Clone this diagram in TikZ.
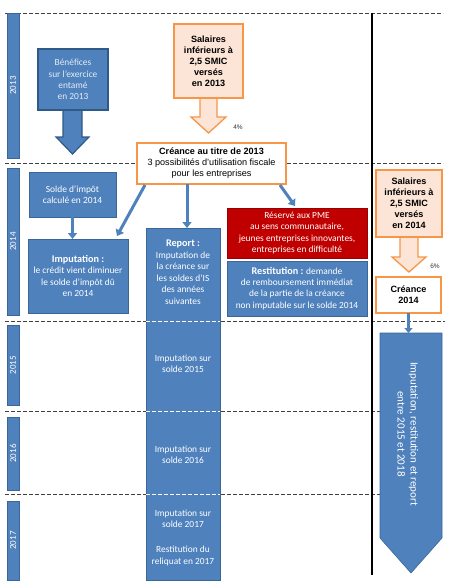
\documentclass[tikz,border=0pt]{standalone}
\usepackage{fontspec}
\setmainfont{Liberation Sans}
\newfontfamily\blfont{Carlito}
\usetikzlibrary{arrows.meta,calc}
\definecolor{myblue}{HTML}{4F81BD}
\definecolor{mybluedk}{HTML}{3B6796}
\definecolor{mybluebd}{HTML}{2E5A88}
\definecolor{myor}{HTML}{F79646}
\definecolor{myorfill}{HTML}{FCE4D6}
\definecolor{myred}{HTML}{C00000}
\definecolor{dashgray}{HTML}{404040}
\begin{document}
\begin{tikzpicture}[x=1pt,y=-1pt,
  bl/.style={fill=myblue, draw=mybluedk, line width=0.6pt, inner sep=0pt, outer sep=0pt, text=white,
    font=\blfont\fontsize{9.4}{11.3}\selectfont, align=center, anchor=north west},
  orb/.style={fill=myorfill, draw=myor, line width=1.3pt, inner sep=0pt, outer sep=0pt,
    font=\bfseries\fontsize{9.1}{11}\selectfont, align=center, anchor=north west},
  crb/.style={fill=white, draw=myor, line width=1.3pt, inner sep=0pt, outer sep=0pt,
    font=\fontsize{9.1}{11}\selectfont, align=center, anchor=north west},
  yearbar/.style={fill=myblue, draw=mybluedk, line width=0.5pt, inner sep=0pt, outer sep=0pt, minimum width=12pt, anchor=north west},
  yeartxt/.style={rotate=90, text=white, font=\blfont\fontsize{9}{10}\selectfont, inner sep=0pt},
  txt/.style={text=white, font=\blfont\fontsize{9.4}{11.5}\selectfont, align=center, inner sep=0pt},
  hdf/.style={},
  dl/.style={dashgray, line width=0.8pt, dash pattern=on 4pt off 2pt},
  wdl/.style={white, line width=0.8pt, dash pattern=on 4pt off 2pt},
  conn/.style={myblue, line width=3pt, -{Triangle[length=6pt,width=9pt]}},
  pct/.style={font=\fontsize{6.5}{7}\selectfont, inner sep=0pt, text=black!80}
]
\useasboundingbox (0,0) rectangle (449,584);
\fill[white] (0,0) rectangle (449,584);

% dashed separators
\draw[dl] (5,13) -- (443,13);
\draw[dl] (5,163) -- (443,163);
\draw[dl] (5,321) -- (445,321);
\draw[dl] (5,411) -- (381,411);
\draw[dl] (5,494) -- (381,494);

% vertical black line
\draw[black, line width=1.1pt] (372,13) -- (372,575);

% year bars
\node[yearbar, minimum height=145pt] (y13) at (7,13) {};
\node[yeartxt] (t13) at (y13.center) {2013};
\node[yearbar, minimum height=147pt] (y14) at (7,168) {};
\node[yeartxt] (t14) at (y14.center) {2014};
\node[yearbar, minimum height=80pt] (y15) at (7,325) {};
\node[yeartxt] (t15) at (y15.center) {2015};
\node[yearbar, minimum height=73pt] (y16) at (7,417) {};
\node[yeartxt] (t16) at (y16.center) {2016};
\node[yearbar, minimum height=79pt] (y17) at (7,501) {};
\node[yeartxt] (t17) at (y17.center) {2017};

% Benefices box with block arrow
\filldraw[fill=myblue, draw=mybluebd, line width=1.2pt, line join=miter]
  (63,110) -- (63,137) -- (56,137) -- (72.5,154) -- (89,137) -- (82,137) -- (82,110);
\node[bl, draw=mybluebd, line width=1.2pt, minimum width=70pt, minimum height=61pt, text=white!85!myblue] (benef) at (38,49)
  {B\'en\'efices\\sur l’exercice\\entam\'e\\en 2013};

% orange 2013 with block arrow
\filldraw[fill=myorfill, draw=myor, line width=1.3pt, line join=miter]
  (200,98) -- (200,117) -- (191,117) -- (208.5,133) -- (226,117) -- (217,117) -- (217,98);
\node[orb, minimum width=69pt, minimum height=74pt] (sal13) at (174,24)
  {Salaires\\inf\'erieurs \`a\\2,5 SMIC\\vers\'es\\en 2013};
\node[pct] (p4) at (238,127) {4\%};

% Creance 2013
\node[crb, minimum width=149pt, minimum height=41pt] (cre13) at (137,143)
  {\textbf{Cr\'eance au titre de 2013}\\3 possibilit\'es d’utilisation fiscale\\pour les entreprises};

% orange 2014 with block arrow
\filldraw[fill=myorfill, draw=myor, line width=1.3pt, line join=miter]
  (400,237) -- (400,257) -- (392,257) -- (409,272) -- (426,257) -- (418,257) -- (418,237);
\node[orb, minimum width=66pt, minimum height=67pt] (sal14) at (376,170)
  {Salaires\\inf\'erieurs \`a\\2,5 SMIC\\vers\'es\\en 2014};
\node[pct] (p6) at (435,266) {6\%};

\node[crb, font=\bfseries\fontsize{9.1}{11}\selectfont, minimum width=65pt, minimum height=36pt] (cre14) at (376,277)
  {Cr\'eance\\2014};

% big right arrow
\filldraw[fill=myblue, draw=mybluedk, line width=0.6pt, line join=miter]
  (380,333) -- (442,333) -- (442,538) -- (411,573) -- (380,538) -- cycle;
\coordinate (bigtop) at (408.5,333);
\node[txt, rotate=-90, font=\blfont\fontsize{11}{13}\selectfont] (bigtxt) at (408,434)
  {Imputation, restitution et report\\entre 2015 et 2018};

% 2014 blue boxes
\node[bl, minimum width=87pt, minimum height=45pt] (solde) at (29,172)
  {Solde d’imp\^ot\\calcul\'e en 2014};
\node[bl, minimum width=100pt, minimum height=74pt] (imput) at (28,239)
  {{\bfseries\fontsize{10.2}{11.5}\selectfont Imputation :}\\le cr\'edit vient diminuer\\le solde d’imp\^ot d\^u\\en 2014};

% report column
\node[bl, minimum width=74pt, minimum height=352pt] (report) at (146,228) {};
\draw[wdl] (146,321) -- (220,321);
\draw[wdl] (146,411) -- (220,411);
\draw[wdl] (146,494) -- (220,494);
\node[txt, anchor=north] (reptxt) at (183,240)
  {{\bfseries\fontsize{10.2}{11.5}\selectfont Report :}\\Imputation de\\la cr\'eance sur\\les soldes d’IS\\des ann\'ees\\suivantes};
\node[txt] (r15) at (183,364) {Imputation sur\\solde 2015};
\node[txt] (r16) at (183,455) {Imputation sur\\solde 2016};
\node[txt] (r17) at (183,519) {Imputation sur\\solde 2017};
\node[txt] (r17b) at (183,556) {Restitution du\\reliquat en 2017};

% red and restitution boxes
\node[bl, fill=myred, draw=myred!80!black, minimum width=140pt, minimum height=50pt] (pme) at (227,208)
  {R\'eserv\'e aux PME\\au sens communautaire,\\jeunes entreprises innovantes,\\entreprises en difficult\'e};
\node[bl, minimum width=140pt, minimum height=55pt] (restit) at (227,261)
  {{\bfseries\fontsize{10.2}{11.3}\selectfont Restitution :} demande\\de remboursement imm\'ediat\\de la partie de la cr\'eance\\non imputable sur le solde 2014};

% connectors
\draw[conn] (solde.south) -- (solde.south |- imput.north);
\draw[conn] ($(cre13.south west)+(8,1)$) -- ($(imput.north east)+(-11,-3)$);
\draw[conn] ([xshift=4pt]report.north |- cre13.south) -- ([xshift=4pt]report.north);
\draw[conn] ($(cre13.south east)+(-6,1)$) -- ($(pme.north west)+(68,-2)$);
\draw[conn, -{Triangle[length=5pt,width=8pt]}] (cre14.south) -- (bigtop);
\end{tikzpicture}
\end{document}
